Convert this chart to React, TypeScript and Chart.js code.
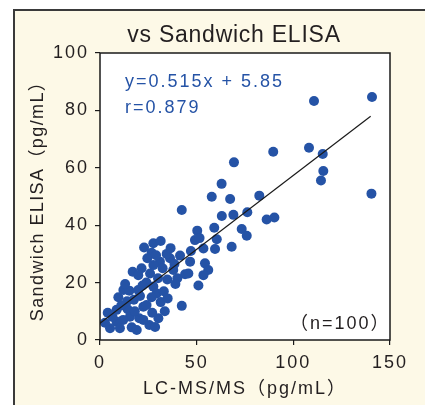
import React, { useEffect, useRef } from "react";
import { Chart, registerables } from "chart.js";

Chart.register(...registerables);

// LC-MS/MS values (pg/mL)
const X_VALUES = [
  140.7, 110.7, 89.6, 108.1, 115.2, 115.5, 114.3, 140.4, 82.4, 69.3,
  67.3, 76.2, 86.2, 90.2, 69.0, 73.3, 75.9, 68.1, 57.8, 63.0,
  42.3, 59.1, 50.3, 49.1, 51.5, 60.4, 53.5, 59.5, 41.4, 46.6,
  54.3, 56.0, 53.5, 44.0, 45.7, 37.9, 50.9, 42.3, 36.2, 22.8,
  27.6, 31.4, 26.7, 34.5, 24.5, 31.0, 16.9, 21.5, 19.8, 27.6,
  32.4, 25.9, 34.8, 29.0, 38.5, 40.0, 12.1, 9.5, 15.2, 19.8,
  20.7, 27.6, 29.3, 26.7, 31.4, 8.6, 14.3, 22.4, 24.1, 15.5,
  20.3, 30.2, 12.0, 8.6, 5.2, 10.3, 16.4, 25.5, 22.4, 2.6,
  17.5, 14.0, 24.0, 30.0, 33.0, 11.0, 18.0, 27.0, 6.5, 35.0,
  36.5, 47.0, 62.9, 39.0, 13.0, 22.0, 33.5, 4.0, 19.0, 28.5,
];
// Sandwich ELISA values (pg/mL)
const Y_VALUES = [
  84.7, 83.3, 65.6, 67.0, 64.8, 58.9, 55.6, 51.0, 50.3, 61.9,
  49.1, 44.5, 42.0, 42.7, 43.6, 38.7, 36.3, 32.5, 49.9, 43.2,
  45.3, 39.1, 38.1, 34.8, 35.5, 35.1, 31.9, 31.7, 29.4, 27.3,
  26.7, 24.4, 22.6, 22.9, 23.2, 24.4, 19.0, 11.9, 28.5, 32.2,
  33.7, 34.5, 30.4, 30.0, 28.5, 27.3, 23.8, 25.0, 22.6, 26.1,
  25.0, 23.2, 21.1, 29.5, 26.5, 21.5, 17.4, 14.9, 17.2, 17.4,
  15.3, 18.6, 16.2, 14.9, 13.2, 10.5, 10.7, 11.6, 12.2, 8.1,
  7.6, 7.6, 7.0, 6.4, 4.1, 4.1, 4.4, 5.2, 7.0, 6.0,
  14.0, 13.5, 20.0, 21.5, 17.0, 12.0, 10.0, 9.5, 8.0, 14.5,
  32.0, 31.0, 54.4, 19.5, 19.5, 19.0, 10.0, 9.5, 3.5, 4.5,
];

const SLOPE = 0.515;
const INTERCEPT = 5.85;
const FIT_X = [0, 140];

const X_TICKS = [0, 50, 100, 150];
const Y_TICKS = [0, 20, 40, 60, 80, 100];

const TITLE = "vs Sandwich ELISA";
const X_LABEL = "LC-MS/MS（pg/mL）";
const Y_LABEL = "Sandwich ELISA（pg/mL）";
const EQUATION = "y=0.515x + 5.85";
const R_TEXT = "r=0.879";
const N_TEXT = "（n=100）";

const FONT = '"Liberation Sans", Arial, "Noto Sans CJK JP", sans-serif';
const TEXT = "#231f20";
const BLUE = "#2553a6";
const CREAM = "#fdf9e7";

const framePlugin = {
  id: "frame",
  beforeUpdate(chart: any) {
    chart.ctx.letterSpacing = "2px";
  },
  beforeDraw(chart: any) {
    const { ctx, width, height, chartArea: a } = chart;
    ctx.letterSpacing = "2px";
    ctx.save();
    ctx.fillStyle = "#ffffff";
    ctx.fillRect(0, 0, width, height);
    ctx.fillStyle = CREAM;
    ctx.fillRect(14, 10, width - 14, height - 10);
    ctx.strokeStyle = "#3a3a3a";
    ctx.lineWidth = 2;
    ctx.beginPath();
    ctx.moveTo(14, height);
    ctx.lineTo(14, 10);
    ctx.lineTo(width, 10);
    ctx.stroke();
    ctx.fillStyle = "#ffffff";
    ctx.fillRect(a.left, a.top, a.right - a.left, a.bottom - a.top);
    ctx.restore();
  },
  afterDatasetsDraw(chart: any) {
    const { ctx, chartArea: a } = chart;
    ctx.save();
    ctx.strokeStyle = "#1a1a1a";
    ctx.lineWidth = 1.5;
    ctx.strokeRect(a.left, a.top, a.right - a.left, a.bottom - a.top);

    ctx.fillStyle = TEXT;
    ctx.textBaseline = "alphabetic";
    ctx.textAlign = "center";
    ctx.letterSpacing = "0.75px";
    ctx.font = `23px ${FONT}`;
    ctx.fillText(TITLE, (a.left + a.right) / 2 - 11, a.top - 11);

    ctx.letterSpacing = "2px";
    ctx.font = `18px ${FONT}`;
    ctx.textAlign = "left";
    ctx.fillStyle = BLUE;
    ctx.fillText(EQUATION, a.left + 25, a.top + 34);
    ctx.fillText(R_TEXT, a.left + 25, a.top + 60);

    ctx.fillStyle = TEXT;
    ctx.fillText(N_TEXT, a.right - 100, a.bottom - 11);

    // y-axis title
    ctx.save();
    ctx.translate(38, (a.top + a.bottom) / 2);
    ctx.rotate(-Math.PI / 2);
    ctx.textAlign = "center";
    ctx.textBaseline = "middle";
    ctx.letterSpacing = "1.4px";
    ctx.fillStyle = TEXT;
    ctx.fillText(Y_LABEL, 0, 0);
    ctx.restore();

    ctx.restore();
  },
};

export default function App() {
  const canvasRef = useRef<HTMLCanvasElement | null>(null);

  useEffect(() => {
    const canvas = canvasRef.current;
    if (!canvas) return;
    const points = X_VALUES.map((x, i) => ({ x, y: Y_VALUES[i] }));
    const fit = FIT_X.map((x) => ({ x, y: SLOPE * x + INTERCEPT }));

    const chart = new Chart(canvas, {
      type: "scatter",
      data: {
        datasets: [
          {
            label: "fit",
            data: fit,
            showLine: true,
            borderColor: "#1a1a1a",
            borderWidth: 1.2,
            pointRadius: 0,
            order: 0,
          } as any,
          {
            label: "samples",
            data: points,
            backgroundColor: BLUE,
            borderWidth: 0,
            pointRadius: 5,
            order: 1,
          },
        ],
      },
      options: {
        animation: false,
        responsive: false,
        layout: { padding: { left: 0, top: 53, right: 35, bottom: 0 } },
        plugins: {
          legend: { display: false },
          tooltip: { enabled: false },
          title: { display: false },
        },
        scales: {
          x: {
            type: "linear",
            position: "bottom",
            min: 0,
            max: 150,
            afterBuildTicks: (s: any) => {
              s.ticks = X_TICKS.map((v) => ({ value: v }));
            },
            afterFit: (s: any) => {
              s.height = 65;
            },
            grid: {
              drawOnChartArea: false,
              drawTicks: true,
              tickLength: 5,
              color: "#1a1a1a",
              lineWidth: 1.2,
            },
            border: { display: false },
            ticks: {
              font: { family: FONT, size: 18 },
              color: TEXT,
              padding: 7,
              maxRotation: 0,
              autoSkip: false,
            },
            title: {
              display: true,
              text: X_LABEL,
              font: { family: FONT, size: 18 },
              color: TEXT,
              padding: { top: 0, bottom: 5 },
            },
          },
          y: {
            type: "linear",
            position: "left",
            min: 0,
            max: 100,
            afterBuildTicks: (s: any) => {
              s.ticks = Y_TICKS.map((v) => ({ value: v }));
            },
            afterFit: (s: any) => {
              s.width = 100;
            },
            grid: {
              drawOnChartArea: false,
              drawTicks: true,
              tickLength: 5,
              color: "#1a1a1a",
              lineWidth: 1.2,
            },
            border: { display: false },
            ticks: {
              font: { family: FONT, size: 18 },
              color: TEXT,
              padding: 6,
              autoSkip: false,
            },
            title: { display: false },
          },
        },
      },
      plugins: [framePlugin],
    });

    return () => chart.destroy();
  }, []);

  return (
    <div style={{ position: "fixed", left: 0, top: 0, width: 425, height: 405 }}>
      <canvas ref={canvasRef} width={425} height={405} style={{ display: "block" }} />
    </div>
  );
}
